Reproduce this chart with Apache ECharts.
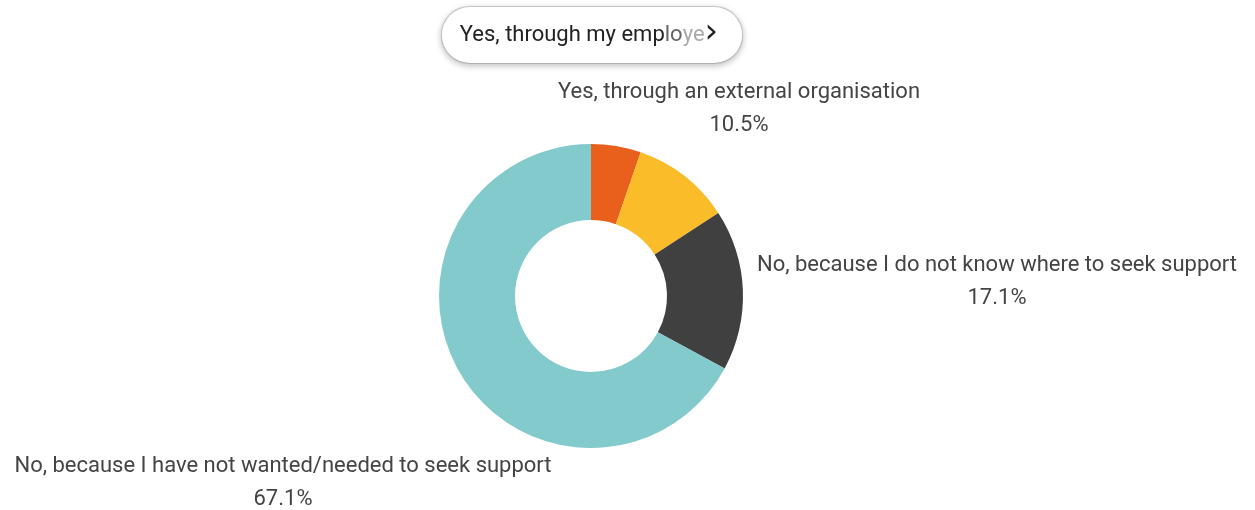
<!DOCTYPE html>
<html>
<head>
<meta charset="utf-8">
<script src="https://cdn.jsdelivr.net/npm/echarts@6/dist/echarts.min.js"></script>
<style>
  html, body { margin: 0; padding: 0; background: #fff; }
  #chart { width: 1255px; height: 510px; }
</style>
</head>
<body>
<div id="chart"></div>
<script>
// Responses: "Have you sought support?"
const categories = [
  'Yes, through my employer',
  'Yes, through an external organisation',
  'No, because I do not know where to seek support',
  'No, because I have not wanted/needed to seek support'
];
const shares = [5.3, 10.5, 17.1, 67.1];
const colors = ['#E8601C', '#FBBC2A', '#404040', '#82CACB'];

// Where each label block is centred (px)
const labelSpots = [
  { x: 592, y: 35 },
  { x: 739, y: 109 },
  { x: 997, y: 282 },
  { x: 283, y: 483 }
];

const chart = echarts.init(document.getElementById('chart'), null, { renderer: 'canvas' });

// First category shown as a rounded pill, its name fading out under a chevron
const pillLabel = {
  formatter: function (p) {
    const n = p.name;
    return '{t|' + n.slice(0, 19) + '}{m|' + n.slice(19, 21) + '}{f|' + n.slice(21, 23) + '}{c|›}';
  },
  backgroundColor: '#fff',
  borderColor: '#cfcfcf',
  borderWidth: 1,
  borderRadius: 28,
  padding: [0, 24, 0, 18],
  height: 56,
  shadowColor: 'rgba(0,0,0,0.22)',
  shadowBlur: 6,
  shadowOffsetY: 2,
  rich: {
    t: { fontFamily: 'Roboto', fontSize: 22, color: '#222', lineHeight: 56 },
    m: { fontFamily: 'Roboto', fontSize: 22, color: '#666', lineHeight: 56 },
    f: { fontFamily: 'Roboto', fontSize: 22, color: '#aaa', lineHeight: 56 },
    c: { fontFamily: 'DejaVu Sans', fontSize: 34, color: '#222', lineHeight: 56, padding: [0, 0, 4, 0] }
  }
};

const data = categories.map(function (name, i) {
  const item = { name: name, value: shares[i], itemStyle: { color: colors[i] } };
  if (i === 0) item.label = pillLabel;
  return item;
});

chart.setOption({
  animation: false,
  series: [{
    type: 'pie',
    center: [591, 296],
    radius: [76, 152],
    startAngle: 90,
    clockwise: true,
    avoidLabelOverlap: false,
    emphasis: { disabled: true },
    labelLine: { show: false },
    label: {
      show: true,
      position: 'outside',
      fontFamily: 'Roboto',
      fontSize: 22,
      lineHeight: 33,
      color: '#444',
      align: 'center',
      formatter: function (p) {
        return p.name + '\n' + p.value.toFixed(1) + '%';
      }
    },
    labelLayout: function (params) {
      const s = labelSpots[params.dataIndex];
      return { x: s.x, y: s.y, align: 'center', verticalAlign: 'middle' };
    },
    data: data
  }]
});
</script>
</body>
</html>
